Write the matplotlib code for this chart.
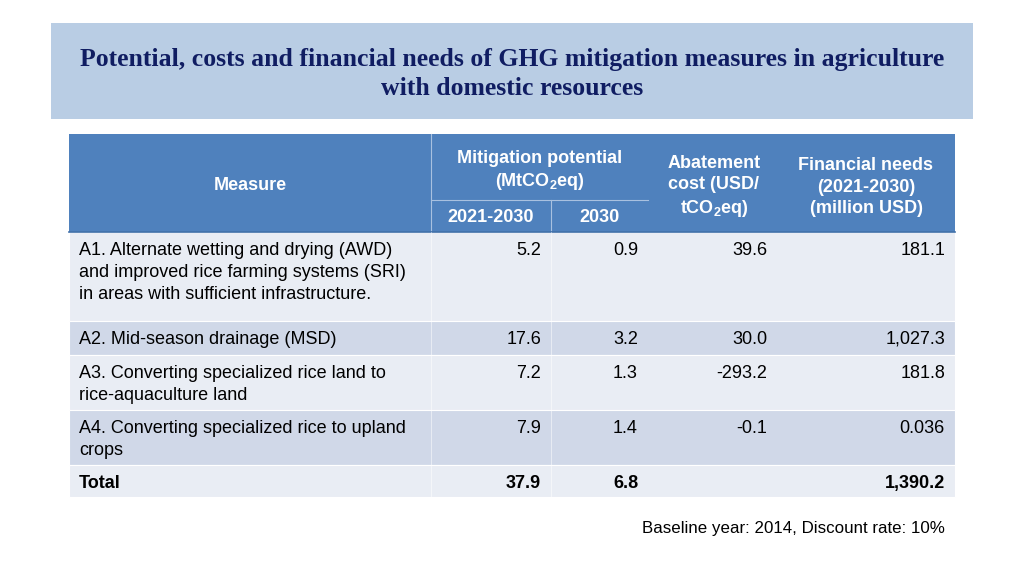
import matplotlib.pyplot as plt
from matplotlib.patches import Rectangle

plt.rcParams["font.family"] = ["Liberation Sans", "DejaVu Sans"]
plt.rcParams["mathtext.fontset"] = "custom"
plt.rcParams["mathtext.rm"] = "Liberation Sans"
plt.rcParams["mathtext.bf"] = "Liberation Sans:bold"

# ── data ─────────────────────────────────────────────────────────────────────

TITLE = ("Potential, costs and financial needs of GHG mitigation measures in agriculture\n"
         "with domestic resources")
NOTE = "Baseline year: 2014, Discount rate: 10%"

measures = [
    "A1. Alternate wetting and drying (AWD)\nand improved rice farming systems (SRI)\nin areas with sufficient infrastructure.",
    "A2. Mid-season drainage (MSD)",
    "A3. Converting specialized rice land to\nrice-aquaculture land",
    "A4. Converting specialized rice to upland\ncrops",
]
potential_2021_2030 = [5.2, 17.6, 7.2, 7.9]
potential_2030 = [0.9, 3.2, 1.3, 1.4]
abatement_cost = [39.6, 30.0, -293.2, -0.1]
financial_needs = [181.1, 1027.3, 181.8, 0.036]

total_label = "Total"
total_2021_2030 = 37.9
total_2030 = 6.8
total_financial = 1390.2

# ── layout (pixels, origin top-left) ─────────────────────────────────────────

HEAD_BLUE = "#4f81bd"
ROW_LIGHT = "#e9edf4"
ROW_DARK = "#d0d8e8"
TITLE_BG = "#b9cde4"
TITLE_FG = "#101d62"

col_x = [69, 431, 551, 648, 779, 955]          # column boundaries
num_right = [541, 638, 767, 945]               # right edge of numbers
head_top, head_mid, head_bot = 134, 200, 232
row_bounds = [232, 321, 355, 410, 465, 497]    # body rows incl. total

FS_BODY = 13


def fmt(v):
    return f"{v:,.1f}" if abs(v) >= 0.1 else f"{v:.3f}"


fig = plt.figure(figsize=(10.24, 5.76), dpi=100)
ax = fig.add_axes([0, 0, 1, 1])
ax.set_xlim(0, 1024)
ax.set_ylim(576, 0)
ax.axis("off")

# title banner
ax.add_patch(Rectangle((51, 23), 922, 96, facecolor=TITLE_BG, edgecolor="none"))
ax.text(512, 74, TITLE, ha="center", va="center", fontsize=18.5, fontweight="bold",
        family=["Liberation Serif", "DejaVu Serif"], color=TITLE_FG, linespacing=1.38)

# header
ax.add_patch(Rectangle((col_x[0], head_top), col_x[-1] - col_x[0], head_bot - head_top,
                       facecolor=HEAD_BLUE, edgecolor="none"))
ax.plot([col_x[1], col_x[1]], [head_top, head_bot], color="#a9c1e0", lw=0.8)
ax.plot([col_x[1], col_x[3]], [head_mid, head_mid], color="#a9c1e0", lw=0.8)
ax.plot([col_x[2], col_x[2]], [head_mid, head_bot], color="#a9c1e0", lw=0.8)
ax.plot([col_x[0], col_x[-1]], [head_bot, head_bot], color="#3f6fa8", lw=1.2)

hkw = dict(ha="center", va="center", fontsize=FS_BODY, fontweight="bold", color="white")
ax.text((col_x[0] + col_x[1]) / 2, 186, "Measure", **hkw)
ax.text((col_x[1] + col_x[3]) / 2, 171, "Mitigation potential\n(MtCO$_\\mathbf{2}$eq)",
        linespacing=1.33, **hkw)
ax.text((col_x[1] + col_x[2]) / 2, 218, "2021-2030", **hkw)
ax.text((col_x[2] + col_x[3]) / 2, 218, "2030", **hkw)
ax.text(714, 187, "Abatement\ncost (USD/\ntCO$_\\mathbf{2}$eq)", linespacing=1.33, **hkw)
ax.text(866, 187, "Financial needs\n(2021-2030)\n(million USD)", linespacing=1.33, **hkw)

# body rows
rows_text = measures + [total_label]
col1 = [fmt(v) for v in potential_2021_2030] + [fmt(total_2021_2030)]
col2 = [fmt(v) for v in potential_2030] + [fmt(total_2030)]
col3 = [fmt(v) for v in abatement_cost] + [""]
col4 = [fmt(v) for v in financial_needs] + [fmt(total_financial)]

for i, label in enumerate(rows_text):
    top, bot = row_bounds[i], row_bounds[i + 1]
    face = ROW_DARK if i % 2 == 1 else ROW_LIGHT
    ax.add_patch(Rectangle((col_x[0], top), col_x[-1] - col_x[0], bot - top,
                           facecolor=face, edgecolor="white", lw=0.8))
    for x in col_x[1:3]:
        ax.plot([x, x], [top, bot], color="white", lw=0.6, alpha=0.6)
    weight = "bold" if label == total_label else "normal"
    ax.text(79, top + 10, label, ha="left", va="top", fontsize=FS_BODY,
            fontweight=weight, color="black", linespacing=1.38)
    for xr, col in zip(num_right, [col1, col2, col3, col4]):
        ax.text(xr, top + 10, col[i], ha="right", va="top", fontsize=FS_BODY,
                fontweight=weight, color="black")

ax.text(945, 528, NOTE, ha="right", va="center", fontsize=12.2, color="black")

fig.savefig("out.png", dpi=100)
